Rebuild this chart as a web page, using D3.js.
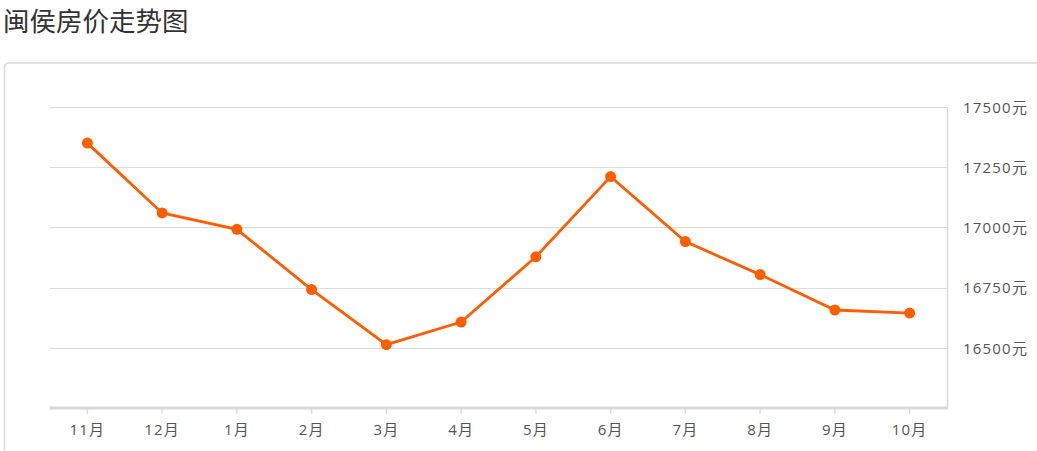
<!DOCTYPE html>
<html>
<head>
<meta charset="utf-8">
<script src="https://cdn.jsdelivr.net/npm/d3@7"></script>
<style>
  body { margin: 0; background: #fff; }
  .title { font-family: "Noto Sans CJK SC", sans-serif; }
  .axis text { font-family: "Open Sans", "Noto Sans CJK SC", sans-serif; font-size: 15px; fill: #555; letter-spacing: 1.2px; }
</style>
</head>
<body>
<svg id="svg1" width="1037" height="451"></svg>
<script>
var months = ["11月", "12月", "1月", "2月", "3月", "4月", "5月", "6月", "7月", "8月", "9月", "10月"];
var prices = [17350, 17060, 16992, 16742, 16513, 16607, 16878, 17211, 16941, 16804, 16657, 16644];
var yTicks = [16500, 16750, 17000, 17250, 17500];

var svg = d3.select("#svg1");
var margin = {top: 107, left: 50, right: 947, bottom: 408};

svg.append("text")
    .attr("class", "title")
    .attr("x", 3)
    .attr("y", 31)
    .attr("font-size", 26.5)
    .attr("fill", "#333")
    .text("闽侯房价走势图");

// panel border
svg.append("rect")
    .attr("x", 4.5).attr("y", 63)
    .attr("width", 1060).attr("height", 420)
    .attr("rx", 4)
    .attr("fill", "none")
    .attr("stroke", "#d8d8d8")
    .attr("stroke-width", 1.5);

var x = d3.scaleBand().domain(months).range([margin.left, margin.right]).padding(0);
var y = d3.scaleLinear().domain([16250, 17500]).range([margin.bottom, margin.top]);

// grid
svg.append("g").selectAll("line")
    .data(yTicks)
  .enter().append("line")
    .attr("x1", margin.left).attr("x2", margin.right)
    .attr("y1", function(d) { return Math.round(y(d)) + 0.5; })
    .attr("y2", function(d) { return Math.round(y(d)) + 0.5; })
    .attr("stroke", "#dcdcdc")
    .attr("stroke-width", 1.2);

// right axis
var yAxis = d3.axisRight(y).tickValues(yTicks).tickSize(0).tickPadding(16)
    .tickFormat(function(d) { return d + "元"; });
var gy = svg.append("g")
    .attr("class", "axis")
    .attr("transform", "translate(" + margin.right + ",0)")
    .call(yAxis);
gy.select(".domain").remove();
gy.selectAll("text").attr("dy", "0.35em");
svg.append("line")
    .attr("x1", margin.right + 0.5).attr("x2", margin.right + 0.5)
    .attr("y1", margin.top).attr("y2", margin.bottom)
    .attr("stroke", "#d8d8d8").attr("stroke-width", 1.5);

// bottom axis
var xAxis = d3.axisBottom(x).tickSize(5).tickPadding(10).tickSizeOuter(0);
var gx = svg.append("g")
    .attr("class", "axis")
    .attr("transform", "translate(0," + (margin.bottom + 1) + ")")
    .call(xAxis);
gx.select(".domain").remove();
gx.selectAll(".tick line").attr("stroke", "#dcdcdc").attr("stroke-width", 1.5);
svg.append("line")
    .attr("x1", margin.left).attr("x2", margin.right + 1)
    .attr("y1", margin.bottom).attr("y2", margin.bottom)
    .attr("stroke", "#d8d8d8").attr("stroke-width", 3);

var cx = function(d, i) { return x(months[i]) + x.bandwidth() / 2; };

var line = d3.line()
    .x(cx)
    .y(function(d) { return y(d); });

svg.append("path")
    .datum(prices)
    .attr("d", line)
    .attr("fill", "none")
    .attr("stroke", "#ff5e00")
    .attr("stroke-width", 2.8);

svg.append("g").selectAll("circle")
    .data(prices)
  .enter().append("circle")
    .attr("cx", cx)
    .attr("cy", function(d) { return y(d); })
    .attr("r", 5.5)
    .attr("fill", "#ff5e00");
</script>
</body>
</html>
